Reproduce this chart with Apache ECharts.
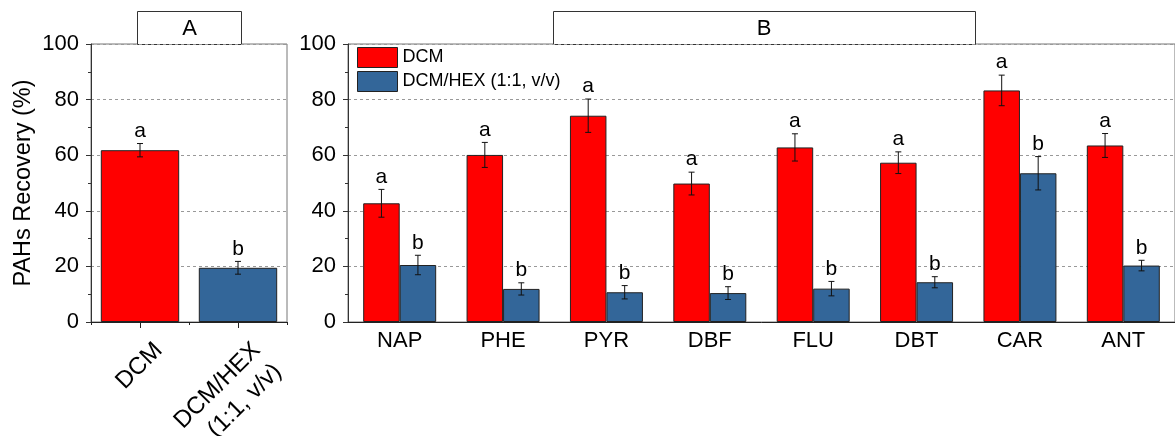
<!DOCTYPE html>
<html>
<head>
<meta charset="utf-8">
<script src="https://cdn.jsdelivr.net/npm/echarts@6/dist/echarts.min.js"></script>
<style>
  html, body { margin: 0; padding: 0; background: #fff; }
  #chart { width: 1175px; height: 436px; }
</style>
</head>
<body>
<div id="chart"></div>
<script>
// Panel A: overall recovery per extraction solvent
const categoriesA = ['DCM', 'DCM/HEX\n(1:1, v/v)'];
const recoveryA = [61.8, 19.5];
const errorA = [2.4, 2.3];
const lettersA = ['a', 'b'];

// Panel B: recovery per compound
const compounds = ['NAP', 'PHE', 'PYR', 'DBF', 'FLU', 'DBT', 'CAR', 'ANT'];
const dcm = [42.7, 60.1, 74.2, 49.8, 62.8, 57.3, 83.3, 63.5];
const dcmErr = [5.0, 4.5, 6.0, 4.1, 4.9, 3.9, 5.5, 4.3];
const dcmHex = [20.5, 11.9, 10.7, 10.4, 12.0, 14.3, 53.5, 20.3];
const dcmHexErr = [3.5, 2.2, 2.4, 2.3, 2.6, 2.0, 6.0, 1.9];
const lettersDcm = ['a', 'a', 'a', 'a', 'a', 'a', 'a', 'a'];
const lettersDcmHex = ['b', 'b', 'b', 'b', 'b', 'b', 'b', 'b'];

const seriesNames = ['DCM', 'DCM/HEX (1:1, v/v)'];
const yMin = 0, yMax = 100, yStep = 20;

const RED = '#ff0000';
const BLUE = '#336699';
const FONT = '"Liberation Sans", Arial, sans-serif';
const GAP_B = 0.294;

// Error bar with a significance letter above its upper cap
function errorBars(letters, shiftFrac) {
  return function (params, api) {
    const i = api.value(0), v = api.value(1), e = api.value(2);
    const band = api.size([1, 0])[0];
    const x = api.coord([i, v])[0] + shiftFrac * band;
    const yTop = api.coord([i, v + e])[1];
    const yBot = api.coord([i, v - e])[1];
    const cap = 3;
    const ls = { stroke: '#111', lineWidth: 1 };
    return {
      type: 'group',
      children: [
        { type: 'line', shape: { x1: x, y1: yTop, x2: x, y2: yBot }, style: ls },
        { type: 'line', shape: { x1: x - cap, y1: yTop, x2: x + cap, y2: yTop }, style: ls },
        { type: 'line', shape: { x1: x - cap, y1: yBot, x2: x + cap, y2: yBot }, style: ls },
        { type: 'text', style: { text: letters[params.dataIndex], x: x, y: yTop - 2,
            align: 'center', verticalAlign: 'bottom', font: '21px ' + FONT, fill: '#000' } }
      ]
    };
  };
}

// Slanted category names under panel A, hung from the top-right corner
function slantedLabels(params, api) {
  const i = api.value(0);
  const p = api.coord([i, yMin]);
  return {
    type: 'text',
    x: p[0] + 8, y: p[1] + 14,
    rotation: Math.PI / 4,
    style: { text: categoriesA[i], x: 0, y: 0, align: 'right', verticalAlign: 'top',
      font: '24px ' + FONT, lineHeight: 30, fill: '#000' }
  };
}

function yAxisCfg(gridIndex, withName) {
  return {
    gridIndex: gridIndex, type: 'value', min: yMin, max: yMax, interval: yStep,
    name: withName ? 'PAHs Recovery (%)' : '',
    nameLocation: 'middle', nameRotate: 90, nameGap: 55,
    nameTextStyle: { fontSize: 23.5, fontFamily: FONT, color: '#000' },
    axisLine: { show: true, lineStyle: { color: '#333', width: 1 } },
    axisTick: { show: true, length: 5, lineStyle: { color: '#333' } },
    minorTick: { show: true, splitNumber: 2, length: 3, lineStyle: { color: '#333' } },
    axisLabel: { fontSize: 22, fontFamily: FONT, color: '#000', margin: 12 },
    splitLine: { show: true, lineStyle: { color: '#999', type: [3, 3], width: 1 } }
  };
}

const chart = echarts.init(document.getElementById('chart'), null, { renderer: 'canvas' });

chart.setOption({
  animation: false,
  backgroundColor: '#fff',
  grid: [
    { left: 91, top: 44, width: 196, height: 278, show: true, borderColor: '#777', borderWidth: 1 },
    { left: 348, top: 44, width: 832, height: 278, show: true, borderColor: '#777', borderWidth: 1 }
  ],
  legend: {
    data: seriesNames,
    orient: 'vertical', left: 352, top: 42,
    itemWidth: 40, itemHeight: 20, itemGap: 3,
    icon: 'rect',
    textStyle: { fontSize: 18, fontFamily: FONT, color: '#000' },
    itemStyle: { borderColor: '#222', borderWidth: 1 },
    selectedMode: false
  },
  xAxis: [
    { gridIndex: 0, type: 'category', data: categoriesA,
      axisLine: { lineStyle: { color: '#222' } },
      axisTick: { show: true, alignWithLabel: true, length: 6, lineStyle: { color: '#222' } },
      axisLabel: { show: false } },
    { gridIndex: 0, type: 'category', data: categoriesA, position: 'bottom',
      axisLine: { show: false },
      axisTick: { show: true, length: 3, lineStyle: { color: '#222' } },
      axisLabel: { show: false } },
    { gridIndex: 1, type: 'category', data: compounds,
      axisLine: { lineStyle: { color: '#222' } },
      axisTick: { show: false },
      axisLabel: { fontSize: 22, fontFamily: FONT, color: '#000', margin: 8, interval: 0 } }
  ],
  yAxis: [yAxisCfg(0, true), yAxisCfg(1, false)],
  series: [
    { type: 'bar', xAxisIndex: 0, yAxisIndex: 0, barCategoryGap: '20%',
      data: recoveryA.map((v, i) => ({ value: v, itemStyle: { color: i === 0 ? RED : BLUE } })),
      itemStyle: { borderColor: '#222', borderWidth: 1 } },
    { type: 'custom', xAxisIndex: 0, yAxisIndex: 0, z: 5,
      renderItem: errorBars(lettersA, 0),
      data: recoveryA.map((v, i) => [i, v, errorA[i]]) },
    { type: 'custom', xAxisIndex: 0, yAxisIndex: 0, z: 5, clip: false, silent: true,
      renderItem: slantedLabels,
      data: categoriesA.map((c, i) => [i, yMin]) },
    { name: seriesNames[0], type: 'bar', xAxisIndex: 2, yAxisIndex: 1,
      barGap: '0%', barCategoryGap: (GAP_B * 100) + '%',
      itemStyle: { color: RED, borderColor: '#222', borderWidth: 1 },
      data: dcm },
    { name: seriesNames[1], type: 'bar', xAxisIndex: 2, yAxisIndex: 1,
      barGap: '0%', barCategoryGap: (GAP_B * 100) + '%',
      itemStyle: { color: BLUE, borderColor: '#222', borderWidth: 1 },
      data: dcmHex },
    { type: 'custom', xAxisIndex: 2, yAxisIndex: 1, z: 5,
      renderItem: errorBars(lettersDcm, -(1 - GAP_B) / 4),
      data: dcm.map((v, i) => [i, v, dcmErr[i]]) },
    { type: 'custom', xAxisIndex: 2, yAxisIndex: 1, z: 5,
      renderItem: errorBars(lettersDcmHex, (1 - GAP_B) / 4),
      data: dcmHex.map((v, i) => [i, v, dcmHexErr[i]]) }
  ],
  graphic: [
    { type: 'rect', shape: { x: 137.5, y: 11.5, width: 104, height: 33 },
      style: { fill: '#fff', stroke: '#333', lineWidth: 1 } },
    { type: 'text', x: 189.5, y: 29,
      style: { text: 'A', align: 'center', verticalAlign: 'middle', font: '22px ' + FONT, fill: '#000' } },
    { type: 'rect', shape: { x: 553.5, y: 11.5, width: 422, height: 33 },
      style: { fill: '#fff', stroke: '#333', lineWidth: 1 } },
    { type: 'text', x: 764, y: 29,
      style: { text: 'B', align: 'center', verticalAlign: 'middle', font: '22px ' + FONT, fill: '#000' } }
  ]
});
</script>
</body>
</html>
